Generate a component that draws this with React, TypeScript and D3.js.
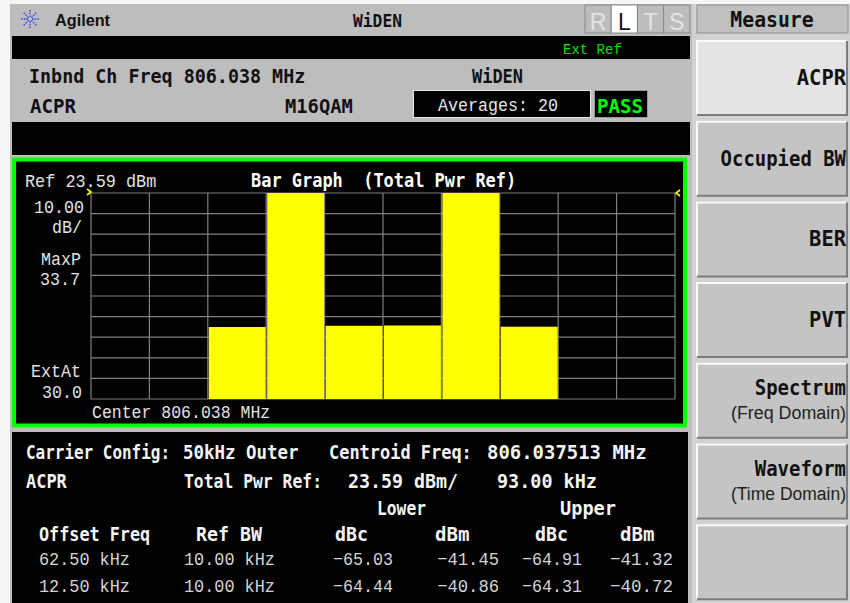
import React from 'react';
import * as d3 from 'd3';

// ACPR bar graph values (dBm), one bar per grid column
const refLevel = 23.59;
const dbPerDiv = 10;
const divisions = 10;
const barNames = ['Lower 62.50 kHz', 'Carrier A', 'Lower 12.50 kHz', 'Upper 12.50 kHz', 'Carrier B', 'Upper 62.50 kHz'];
const barDbm = [-41.45, 23.59, -40.86, -40.72, 23.59, -41.32];
const barColumn = [2, 3, 4, 5, 6, 7];

// result table
const offsetFreqs = ['62.50 kHz', '12.50 kHz'];
const refBws = ['10.00 kHz', '10.00 kHz'];
const lowerDbc = [-65.03, -64.44];
const lowerDbm = [-41.45, -40.86];
const upperDbc = [-64.91, -64.31];
const upperDbm = [-41.32, -40.72];

const softkeys = ['ACPR', 'Occupied BW', 'BER', 'PVT', 'Spectrum', 'Waveform', ''];
const softkeySubs = ['', '', '', '', '(Freq Domain)', '(Time Domain)', ''];
const statusLetters = ['R', 'L', 'T', 'S'];

const BOLD = '"DejaVu Sans Mono", monospace';
const THIN = '"Liberation Mono", monospace';
const GREEN = '#00ff00';

function T({ x, y, s, size = 19, cw, bold = false, anchor = 'start', fill = '#f4f4f4', fam }: any) {
  return (
    <text x={x} y={y} fontSize={size} fontFamily={fam || (bold ? BOLD : THIN)}
      fontWeight={bold ? 'bold' : 'normal'} textAnchor={anchor} fill={fill} style={{ whiteSpace: 'pre' }}
      textLength={cw ? s.length * cw : undefined} lengthAdjust="spacingAndGlyphs">{s}</text>
  );
}

function Bevel({ x, y, w, h, fill }: any) {
  return (
    <g>
      <rect x={x} y={y} width={w} height={h} fill={fill} />
      <path d={`M${x + 1},${y + h - 1}V${y + 1}H${x + w - 1}`} stroke="#fafafa" strokeWidth={2} fill="none" />
      <path d={`M${x + 1},${y + h - 1}H${x + w - 1}V${y + 1}`} stroke="#7c7c7c" strokeWidth={2} fill="none" />
    </g>
  );
}

export default function App() {
  // plot grid
  const gx0 = 91, gx1 = 675, gy0 = 193, gy1 = 399;
  const x = d3.scaleBand<number>().domain(d3.range(divisions)).range([gx0, gx1]).padding(0);
  const y = d3.scaleLinear().domain([refLevel - dbPerDiv * divisions, refLevel]).range([gy1, gy0]);
  const gridVals = d3.range(divisions + 1).map(i => refLevel - i * dbPerDiv);
  const colEdges = d3.range(divisions + 1).map(i => gx0 + i * x.step());
  const fmt = d3.format('.2f');

  const keyTop = (i: number) => 40 + i * 80.7;
  const lbl = '#e2e2e2';
  const val = '#d4d4d4';

  return (
    <svg width={850} height={603} style={{ position: 'absolute', left: 0, top: 0, background: '#f6f6f6' }}>
      {/* main panels */}
      <rect x={10} y={4} width={682} height={599} fill="#bdbdbd" />
      <rect x={692} y={4} width={158} height={599} fill="#d2d2d2" />

      {/* title bar */}
      <g stroke="#2a3ce0" strokeWidth={1.3} strokeDasharray="1.5,1.2">
        {d3.range(8).map(i => {
          const a = (i * Math.PI) / 4;
          return <line key={i} x1={30 + 2 * Math.cos(a)} y1={19 + 2 * Math.sin(a)} x2={30 + 9 * Math.cos(a)} y2={19 + 9 * Math.sin(a)} />;
        })}
      </g>
      <text x={55} y={26} fontSize={17} fontWeight="bold" fontFamily='"Liberation Sans", Arial' fill="#111"
        textLength={55} lengthAdjust="spacingAndGlyphs">Agilent</text>
      <T x={353} y={27} s="WiDEN" bold size={18} cw={9.8} fill="#111" />

      {/* R L T S */}
      {statusLetters.map((l, i) => (
        <g key={l}>
          <rect x={585 + i * 26.2} y={5} width={26.2} height={28} fill={l === 'L' ? '#ffffff' : '#bcbcbc'} stroke="#8a8a8a" strokeWidth={1} />
          <text x={585 + i * 26.2 + 13.1} y={30} fontSize={23} textAnchor="middle" fontFamily='"Liberation Sans", Arial'
            fill={l === 'L' ? '#111' : '#e4e4e4'}>{l}</text>
        </g>
      ))}

      <rect x={12} y={36} width={678} height={23} fill="#000" />
      <T x={563} y={54} s="Ext Ref" size={15} cw={8.4} fill="#00e000" />

      <T x={29} y={83} s="Inbnd Ch Freq 806.038 MHz" bold size={20} cw={11.05} fill="#111" />
      <T x={472} y={83} s="WiDEN" bold size={20} cw={10.2} fill="#111" />
      <T x={30} y={113} s="ACPR" bold size={20} cw={11.5} fill="#111" />
      <T x={285} y={113} s="M16QAM" bold size={20} cw={11.3} fill="#111" />

      <rect x={413.5} y={90.5} width={177} height={27} fill="#000" stroke="#e8e8e8" strokeWidth={1} />
      <T x={438} y={111} s="Averages: 20" size={19} cw={10} fill="#e6e6e6" />
      <rect x={594.5} y={90.5} width={53} height={27} fill="#000" stroke="#9a9a9a" strokeWidth={1} />
      <T x={597} y={113} s="PASS" bold size={20} cw={11.5} fill={GREEN} />

      <rect x={12} y={122} width={678} height={33} fill="#000" />

      {/* graph window */}
      <rect x={14} y={159.5} width={671} height={266} fill="#000" stroke={GREEN} strokeWidth={4} />
      <T x={25} y={187} s="Ref 23.59 dBm" cw={10.1} fill={lbl} />
      <T x={251} y={187} s="Bar Graph  (Total Pwr Ref)" bold cw={10.2} fill="#ffffff" />
      <T x={84} y={213} s="10.00" anchor="end" cw={10} fill={lbl} />
      <T x={82} y={233} s="dB/" anchor="end" cw={10} fill={lbl} />
      <T x={81} y={265} s="MaxP" anchor="end" cw={10} fill={lbl} />
      <T x={80} y={285} s="33.7" anchor="end" cw={10} fill={lbl} />
      <T x={81} y={377} s="ExtAt" anchor="end" cw={10} fill={lbl} />
      <T x={82} y={398} s="30.0" anchor="end" cw={10} fill={lbl} />
      <T x={92} y={418} s="Center 806.038 MHz" cw={9.9} fill={lbl} />

      <g stroke="#808080" strokeWidth={1.2}>
        {gridVals.map(v => <line key={'h' + v} x1={gx0} x2={gx1} y1={y(v)} y2={y(v)} />)}
        {colEdges.map(e => <line key={'v' + e} x1={e} x2={e} y1={gy0} y2={gy1} />)}
      </g>

      {barDbm.map((v, i) => (
        <rect key={barNames[i]} x={(x(barColumn[i]) as number) + 1} y={y(Math.min(v, refLevel))}
          width={x.bandwidth() - 1.5} height={gy1 - y(Math.min(v, refLevel))} fill="#ffff00" />
      ))}

      <path d={`M${gx0 - 4},${y(refLevel) - 4}L${gx0},${y(refLevel) - 1}L${gx0 - 4},${y(refLevel) + 2}`} stroke="#ffff00" strokeWidth={1.6} fill="none" />
      <path d={`M${gx1 + 5},${y(refLevel) - 3}L${gx1 + 1},${y(refLevel)}L${gx1 + 5},${y(refLevel) + 3}`} stroke="#ffff00" strokeWidth={1.6} fill="none" />

      {/* result table */}
      <rect x={12} y={432} width={676} height={171} fill="#000" />
      <T x={26} y={459} s="Carrier Config:" bold cw={9.6} />
      <T x={183} y={459} s="50kHz Outer" bold cw={10.5} />
      <T x={329} y={459} s="Centroid Freq:" bold cw={10.2} />
      <T x={487} y={459} s="806.037513 MHz" bold cw={11.4} />
      <T x={26} y={488} s="ACPR" bold cw={10.2} />
      <T x={184} y={488} s="Total Pwr Ref:" bold cw={9.86} />
      <T x={348} y={488} s="23.59 dBm/" bold cw={11} />
      <T x={497} y={488} s="93.00 kHz" bold cw={11.1} />
      <T x={377} y={515} s="Lower" bold cw={9.8} />
      <T x={560} y={515} s="Upper" bold cw={11.2} />
      <T x={39} y={541} s="Offset Freq" bold cw={10.1} />
      <T x={196} y={541} s="Ref BW" bold cw={11} />
      <T x={335} y={541} s="dBc" bold cw={11} />
      <T x={435} y={541} s="dBm" bold cw={11.5} />
      <T x={535} y={541} s="dBc" bold cw={11} />
      <T x={620} y={541} s="dBm" bold cw={11.5} />
      {offsetFreqs.map((f, i) => {
        const yy = 565 + i * 27;
        return (
          <g key={f}>
            <T x={39} y={yy} s={f} cw={10.1} fill={val} />
            <T x={184} y={yy} s={refBws[i]} cw={10.1} fill={val} />
            <T x={393} y={yy} s={fmt(lowerDbc[i])} anchor="end" cw={10} fill={val} />
            <T x={499} y={yy} s={fmt(lowerDbm[i])} anchor="end" cw={10.3} fill={val} />
            <T x={582} y={yy} s={fmt(upperDbc[i])} anchor="end" cw={10} fill={val} />
            <T x={673} y={yy} s={fmt(upperDbm[i])} anchor="end" cw={10.5} fill={val} />
          </g>
        );
      })}

      {/* softkeys */}
      <rect x={697} y={5} width={151} height={28} fill="#c0c0c0" stroke="#8c8c8c" strokeWidth={1} />
      <T x={772} y={27} s="Measure" bold size={21} cw={11.9} anchor="middle" fill="#111" />
      {softkeys.map((k, i) => (
        <g key={i}>
          <Bevel x={696} y={keyTop(i)} w={152} h={76} fill={i === 0 ? '#e4e4e4' : '#c4c4c4'} />
          {k && <T x={846} y={keyTop(i) + (softkeySubs[i] ? 32 : 45)} s={k} bold size={21} cw={k.length > 6 ? 11.4 : 12.3} anchor="end" fill="#111" />}
          {softkeySubs[i] && (
            <text x={846} y={keyTop(i) + 56} fontSize={18} textAnchor="end" fontFamily='"Liberation Sans", Arial'
              fill="#222" textLength={115} lengthAdjust="spacingAndGlyphs">{softkeySubs[i]}</text>
          )}
        </g>
      ))}
    </svg>
  );
}
